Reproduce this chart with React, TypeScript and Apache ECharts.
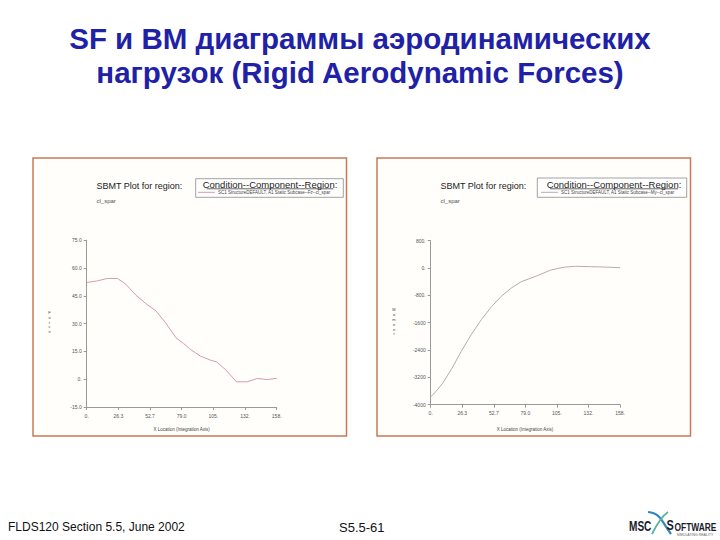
import React, { useEffect, useRef } from "react";
import * as echarts from "echarts";

// Left chart: shear force Fz along the spar
const fzX = [0, 8.9, 17.2, 25.6, 32.5, 40.9, 49.2, 57.6, 65.9, 74.2, 80.6, 86.2, 94.5, 102.9, 107.9, 115.4, 124.6, 133.5, 141.8, 150.2, 158];
const fzY = [52.2, 53.1, 54.4, 54.4, 51.3, 45.4, 40.8, 36.9, 30.2, 22.4, 19.3, 16.1, 12.5, 10.3, 9.4, 5.2, -1.4, -1.4, 0.4, -0.2, 0.5];
// Right chart: bending moment My along the spar
const myX = [0, 4.7, 10.3, 17.2, 25.6, 33.9, 42.3, 50.6, 58.9, 67.3, 75.6, 89, 100.1, 111.2, 121, 133.5, 144.6, 158];
const myY = [-3775, -3600, -3357, -2968, -2433, -1946, -1508, -1138, -827, -584, -400, -224, -60, 25, 50, 40, 30, 10];

const xTickLabels = ["0.", "26.3", "52.7", "79.0", "105.", "132.", "158."];
const fzTickLabels = ["-15.0", "0.", "15.0", "30.0", "45.0", "60.0", "75.0"];
const myTickLabels = ["-4000", "-3200", "-2400", "-1600", "-800.", "0.", "800."];

const fzName = "SC1 StructureDEFAULT, A1 Static Subcase--Fz--cl_spar";
const myName = "SC1 StructureDEFAULT, A1 Static Subcase--My--cl_spar";

const titleLines = ["SF и BM диаграммы аэродинамических", "нагрузок (Rigid Aerodynamic Forces)"];

const FONT = "Liberation Sans, Arial, sans-serif";

function panelGraphics(ox: number, boxX: number, boxW: number, boxY: number, boxH: number, titleCx: number, lineX1: number, lineX2: number, axisNameCx: number, yName: string, yNameX: number, yNameY: number) {
  return [
    {
      type: "rect",
      shape: { x: ox, y: 158, width: 313.5, height: 278 },
      style: { fill: "#fffefa", stroke: "#c97a55", lineWidth: 1.5 },
      z: -10,
    },
    {
      type: "text",
      x: ox + 63.5,
      y: 185.7,
      style: { text: "SBMT Plot for region:", fontSize: 9, fontFamily: FONT, fill: "#222", verticalAlign: "middle" },
    },
    {
      type: "text",
      x: ox + 63.5,
      y: 200.5,
      style: { text: "cl_spar", fontSize: 6, fontFamily: FONT, fill: "#555", verticalAlign: "middle" },
    },
    {
      type: "rect",
      shape: { x: boxX, y: boxY, width: boxW, height: boxH },
      style: { fill: "#ffffff", stroke: "#8a8a8a", lineWidth: 0.8 },
    },
    {
      type: "text",
      x: titleCx,
      y: 184,
      style: { text: "Condition--Component--Region:", fontSize: 9.5, fontFamily: FONT, fill: "#222", align: "center", verticalAlign: "middle" },
    },
    {
      type: "line",
      shape: { x1: lineX1, y1: 188.8, x2: lineX2, y2: 188.8 },
      style: { stroke: "#222", lineWidth: 0.7 },
    },
    {
      type: "text",
      x: axisNameCx,
      y: 429.5,
      style: { text: "X Location (Integration Axis)", fontSize: 4.5, fontFamily: FONT, fill: "#444", align: "center", verticalAlign: "middle" },
    },
    {
      type: "text",
      x: yNameX,
      y: yNameY,
      style: { text: yName.split("").join("\n"), fontSize: 4, lineHeight: 4.8, fontFamily: FONT, fill: "#444", align: "center", verticalAlign: "top" },
    },
  ];
}

export default function App() {
  const ref = useRef<HTMLDivElement>(null);

  useEffect(() => {
    document.body.style.margin = "0";
    const chart = echarts.init(ref.current!, null, { renderer: "svg" });

    const xStep = 158 / 6;
    const axisColor = "#9a9a9a";
    const makeX = (gridIndex: number) => ({
      type: "value",
      gridIndex,
      min: 0,
      max: 158,
      interval: xStep,
      axisLine: { show: true, onZero: false, lineStyle: { color: axisColor, width: 1 } },
      axisTick: { show: true, length: 3, lineStyle: { color: axisColor } },
      axisLabel: {
        fontSize: 5,
        color: "#555",
        margin: 6,
        fontFamily: FONT,
        showMaxLabel: true,
        formatter: (v: number) => xTickLabels[Math.round(v / xStep)] ?? "",
      },
      splitLine: { show: false },
    });
    const makeY = (gridIndex: number, min: number, max: number, interval: number, labels: string[]) => ({
      type: "value",
      gridIndex,
      min,
      max,
      interval,
      axisLine: { show: true, onZero: false, lineStyle: { color: axisColor, width: 1 } },
      axisTick: { show: true, length: 3, lineStyle: { color: axisColor } },
      axisLabel: {
        fontSize: 5,
        color: "#555",
        margin: 5,
        fontFamily: FONT,
        formatter: (v: number) => labels[Math.round((v - min) / interval)] ?? "",
      },
      splitLine: { show: false },
    });

    const legendCommon = {
      orient: "horizontal",
      icon: "rect",
      itemWidth: 17,
      itemHeight: 1,
      padding: 0,
      textStyle: { fontSize: 4.5, color: "#444", fontFamily: FONT, padding: [0, 0, 0, -2] },
    };

    chart.setOption({
      animation: false,
      backgroundColor: "#ffffff",
      grid: [
        { left: 86.7, top: 240.3, width: 190, height: 166.7, containLabel: false },
        { left: 430.7, top: 240.7, width: 189.3, height: 164, containLabel: false },
      ],
      xAxis: [makeX(0), makeX(1)],
      yAxis: [makeY(0, -15, 75, 15, fzTickLabels), makeY(1, -4000, 800, 800, myTickLabels)],
      legend: [
        { ...legendCommon, data: [fzName], left: 198, top: 189.8 },
        { ...legendCommon, data: [myName], left: 541, top: 189.8 },
      ],
      series: [
        {
          name: fzName,
          type: "line",
          xAxisIndex: 0,
          yAxisIndex: 0,
          data: fzX.map((x, i) => [x, fzY[i]]),
          showSymbol: false,
          symbol: "none",
          color: "#d79ca3",
          lineStyle: { width: 1, color: "#d79ca3" },
        },
        {
          name: myName,
          type: "line",
          xAxisIndex: 1,
          yAxisIndex: 1,
          data: myX.map((x, i) => [x, myY[i]]),
          showSymbol: false,
          symbol: "none",
          color: "#bca8b4",
          lineStyle: { width: 1, color: "#bca8b4" },
        },
      ],
      graphic: [
        {
          type: "text",
          x: 360,
          y: 38,
          style: { text: titleLines[0], fontSize: 29.5, fontWeight: "bold", fontFamily: FONT, fill: "#1f22a6", align: "center", verticalAlign: "middle" },
        },
        {
          type: "text",
          x: 360,
          y: 72,
          style: { text: titleLines[1], fontSize: 29.5, fontWeight: "bold", fontFamily: FONT, fill: "#1f22a6", align: "center", verticalAlign: "middle" },
        },
        ...panelGraphics(33, 195.7, 147.6, 178.7, 18.6, 270, 206.7, 333.3, 181.7, "Force", 49.5, 310),
        ...panelGraphics(377, 537.3, 149.4, 178, 19.3, 614, 550, 678, 525, "Moment", 394, 307.5),
        {
          type: "text",
          x: 8,
          y: 527,
          style: { text: "FLDS120 Section 5.5, June 2002", fontSize: 12, fontFamily: FONT, fill: "#111", verticalAlign: "middle" },
        },
        {
          type: "text",
          x: 339,
          y: 527,
          style: { text: "S5.5-61", fontSize: 13, fontFamily: FONT, fill: "#111", verticalAlign: "middle" },
        },
        // MSC Software logo
        {
          type: "text",
          x: 629,
          y: 526,
          scaleX: 0.72,
          style: { text: "MSC", fontSize: 14, fontWeight: "bold", fontFamily: FONT, fill: "#1b1b2a", verticalAlign: "middle" },
        },
        {
          type: "bezierCurve",
          shape: { x1: 648, y1: 512, cpx1: 660, cpy1: 513, x2: 671, y2: 534, cpx2: 661, cpy2: 520 },
          style: { stroke: "#2f86c0", lineWidth: 2.2, fill: "none" },
        },
        {
          type: "bezierCurve",
          shape: { x1: 652, y1: 534, cpx1: 657, cpy1: 524, x2: 668, y2: 512, cpx2: 662, cpy2: 516 },
          style: { stroke: "#58b3a2", lineWidth: 1.8, fill: "none" },
        },
        {
          type: "text",
          x: 666.5,
          y: 526,
          scaleX: 0.78,
          style: { text: "S", fontSize: 14, fontWeight: "bold", fontFamily: FONT, fill: "#1b1b2a", verticalAlign: "middle" },
        },
        {
          type: "text",
          x: 674.5,
          y: 527,
          scaleX: 0.8,
          style: { text: "OFTWARE", fontSize: 10.5, fontWeight: "bold", fontFamily: FONT, fill: "#1b1b2a", verticalAlign: "middle" },
        },
        {
          type: "text",
          x: 695,
          y: 534.5,
          style: { text: "SIMULATING REALITY", fontSize: 3.5, fontFamily: FONT, fill: "#666", align: "center", verticalAlign: "middle" },
        },
      ],
    });

    return () => chart.dispose();
  }, []);

  return <div ref={ref} style={{ position: "absolute", left: 0, top: 0, width: 720, height: 540 }} />;
}
